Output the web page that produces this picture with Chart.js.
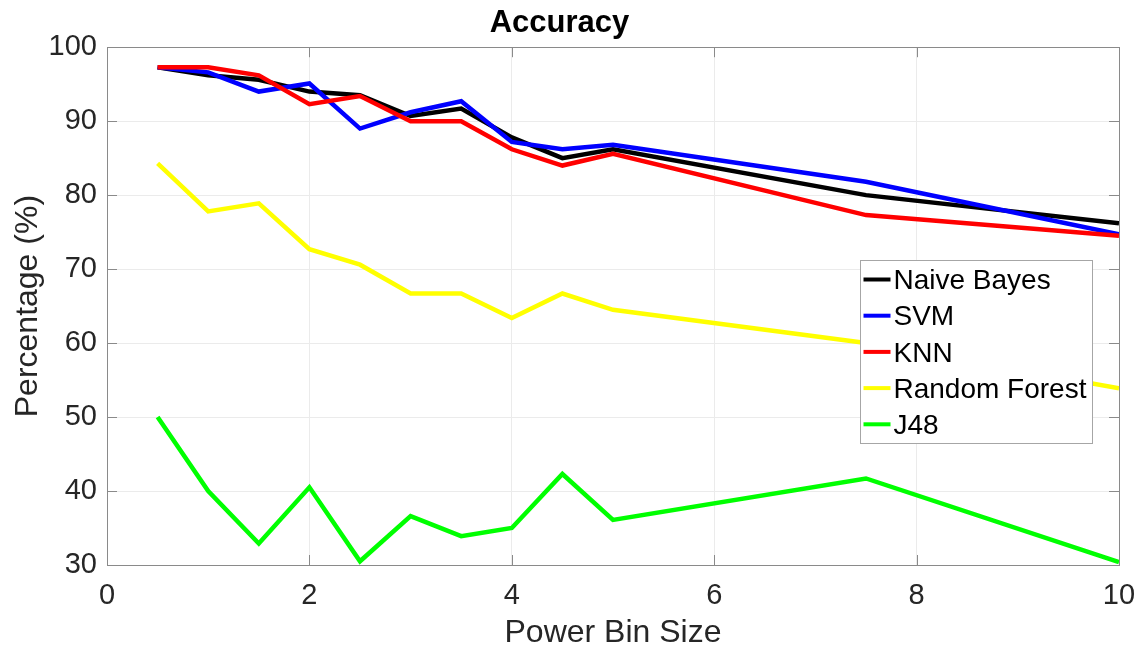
<!DOCTYPE html>
<html>
<head>
<meta charset="utf-8">
<script src="https://cdn.jsdelivr.net/npm/chart.js@4"></script>
<style>
  html, body { margin: 0; padding: 0; background: #fff; }
  #wrap { width: 1143px; height: 652px; }
</style>
</head>
<body>
<div id="wrap"><canvas id="accuracy"></canvas></div>
<script>
// values
const binSizes = [0.5, 1, 1.5, 2, 2.5, 3, 3.5, 4, 4.5, 5, 7.5, 10];
const naiveBayes = [97.3, 96.2, 95.6, 94.0, 93.5, 90.7, 91.7, 87.8, 85.0, 86.2, 80.0, 76.2];
const svm = [97.3, 96.6, 94.0, 95.1, 89.0, 91.2, 92.7, 87.2, 86.2, 86.8, 81.8, 74.7];
const knn = [97.3, 97.3, 96.2, 92.3, 93.4, 90.0, 90.0, 86.2, 84.0, 85.6, 77.3, 74.5];
const randomForest = [84.3, 77.8, 78.9, 72.7, 70.6, 66.7, 66.7, 63.4, 66.7, 64.5, 60.0, 53.9];
const j48 = [50.0, 40.0, 32.9, 40.5, 30.5, 36.6, 33.9, 35.0, 42.3, 36.1, 41.7, 30.4];
const xTicks = [0, 2, 4, 6, 8, 10];
const yTicks = [30, 40, 50, 60, 70, 80, 90, 100];

const FONT = '"Liberation Sans", Arial, Helvetica, sans-serif';
const AXIS_GREY = '#8a8a8a';
const TEXT = '#262626';

function series(label, values, color, order) {
    return {
        label: label,
        data: values.map((v, i) => ({ x: binSizes[i], y: v })),
        borderColor: color,
        backgroundColor: color,
        borderWidth: 4.5,
        pointRadius: 0,
        tension: 0,
        order: order,
    };
}

// box around the plot plus inward ticks on all four sides (matlab style)
const framePlugin = {
    id: 'frame',
    afterDatasetsDraw(chart) {
        const { ctx, chartArea: a, scales } = chart;
        ctx.save();
        ctx.strokeStyle = AXIS_GREY;
        ctx.lineWidth = 1;
        const tl = 10;
        ctx.beginPath();
        xTicks.forEach(t => {
            const px = Math.round(scales.x.getPixelForValue(t)) + 0.5;
            ctx.moveTo(px, a.bottom); ctx.lineTo(px, a.bottom - tl);
            ctx.moveTo(px, a.top); ctx.lineTo(px, a.top + tl);
        });
        yTicks.forEach(t => {
            const py = Math.round(scales.y.getPixelForValue(t)) + 0.5;
            ctx.moveTo(a.left, py); ctx.lineTo(a.left + tl, py);
            ctx.moveTo(a.right, py); ctx.lineTo(a.right - tl, py);
        });
        ctx.stroke();
        ctx.strokeRect(Math.round(a.left) + 0.5, Math.round(a.top) + 0.5,
            Math.round(a.right - a.left), Math.round(a.bottom - a.top));
        ctx.restore();
    }
};

// legend box sitting inside the axes
const legendPlugin = {
    id: 'insideLegend',
    afterDraw(chart) {
        const { ctx, chartArea: a } = chart;
        const w = 232, h = 183;
        const x0 = Math.round(a.right - 27 - w) + 0.5;
        const y0 = Math.round(a.top + 213) + 0.5;
        ctx.save();
        ctx.fillStyle = '#fff';
        ctx.fillRect(x0, y0, w, h);
        ctx.strokeStyle = '#a6a6a6';
        ctx.lineWidth = 1;
        ctx.strokeRect(x0, y0, w, h);
        ctx.font = '28px ' + FONT;
        ctx.textBaseline = 'middle';
        ctx.fillStyle = '#000';
        chart.data.datasets.forEach((ds, i) => {
            const cy = y0 + 19 + i * 36.2;
            ctx.strokeStyle = ds.borderColor;
            ctx.lineWidth = 4;
            ctx.beginPath();
            ctx.moveTo(x0 + 3, cy);
            ctx.lineTo(x0 + 30, cy);
            ctx.stroke();
            ctx.fillText(ds.label, x0 + 33, cy + 2);
        });
        ctx.restore();
    }
};

new Chart(document.getElementById('accuracy'), {
    type: 'line',
    data: {
        datasets: [
            series('Naive Bayes', naiveBayes, '#000000', 5),
            series('SVM', svm, '#0000ff', 4),
            series('KNN', knn, '#ff0000', 3),
            series('Random Forest', randomForest, '#ffff00', 2),
            series('J48', j48, '#00ff00', 1),
        ]
    },
    options: {
        responsive: true,
        maintainAspectRatio: false,
        animation: false,
        layout: { padding: { left: 0, right: 24, top: 0, bottom: 0 } },
        plugins: {
            legend: { display: false },
            tooltip: { enabled: false },
            title: {
                display: true,
                text: 'Accuracy',
                color: '#000',
                font: { family: FONT, size: 31, weight: 'bold' },
                padding: { top: 5, bottom: 5 }
            }
        },
        scales: {
            x: {
                type: 'linear',
                min: 0,
                max: 10,
                afterFit: s => { s.height = 87; s.paddingLeft = 0; s.paddingRight = 0; },
                afterBuildTicks: s => { s.ticks = xTicks.map(v => ({ value: v })); },
                ticks: { color: TEXT, font: { family: FONT, size: 29 }, padding: 14, maxRotation: 0 },
                grid: { color: '#ebebeb', drawTicks: false },
                border: { display: false },
                title: {
                    display: true,
                    text: 'Power Bin Size',
                    color: TEXT,
                    font: { family: FONT, size: 32 },
                    padding: { top: 0, bottom: 0 }
                }
            },
            y: {
                min: 30,
                max: 100,
                afterFit: s => { s.width = 107; },
                afterBuildTicks: s => { s.ticks = yTicks.map(v => ({ value: v })); },
                ticks: { color: TEXT, font: { family: FONT, size: 29 }, padding: 10 },
                grid: { color: '#ebebeb', drawTicks: false },
                border: { display: false },
                title: {
                    display: true,
                    text: 'Percentage (%)',
                    color: TEXT,
                    font: { family: FONT, size: 32 },
                    padding: { top: 9, bottom: 0 }
                }
            }
        }
    },
    plugins: [framePlugin, legendPlugin]
});
</script>
</body>
</html>
